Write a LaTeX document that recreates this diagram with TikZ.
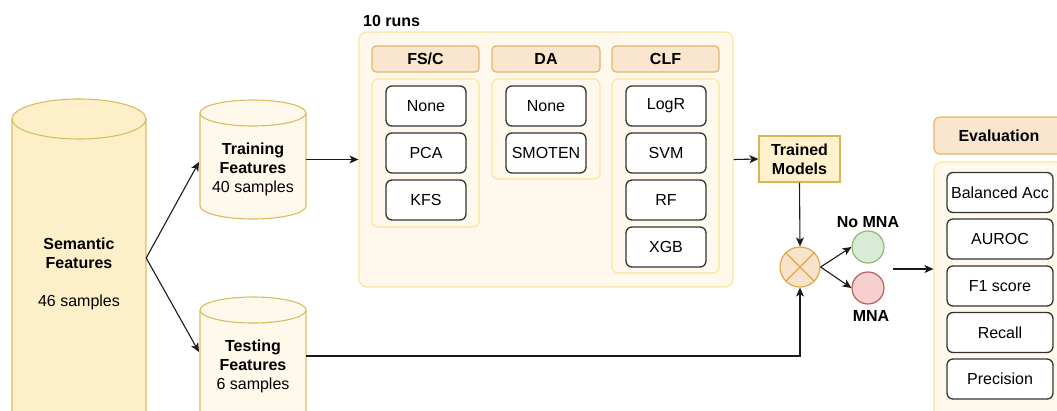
\documentclass[tikz,border=0pt]{standalone}
\usepackage{fontspec}
\setmainfont{Liberation Sans}
\usetikzlibrary{arrows.meta}

\definecolor{semfill}{HTML}{FDF0C8}
\definecolor{cylfill}{HTML}{FEF9EA}
\definecolor{cylline}{HTML}{D9BC62}
\definecolor{runfill}{HTML}{FEF9EC}
\definecolor{runline}{HTML}{FDE49C}
\definecolor{hdrfill}{HTML}{FAE5CE}
\definecolor{hdrline}{HTML}{E5B56C}
\definecolor{optline}{HTML}{333333}
\definecolor{flowcol}{HTML}{1A1A1A}
\definecolor{tmfill}{HTML}{FFF2CC}
\definecolor{tmline}{HTML}{D6B656}
\definecolor{crossfill}{HTML}{F9E2CA}
\definecolor{crossline}{HTML}{DFA845}
\definecolor{okfill}{HTML}{D9EAD6}
\definecolor{okline}{HTML}{8CBB75}
\definecolor{badfill}{HTML}{F6D0CE}
\definecolor{badline}{HTML}{BC5F5B}

% cylinder: #1 left x, #2 right x, #3 top-ellipse centre y, #4 bottom-ellipse centre y,
% #5 ellipse y radius, #6 fill colour
\newcommand\drum[6]{%
  \pgfmathsetmacro\drumrx{(#2-#1)/2}%
  \filldraw[fill=#6, draw=cylline, line width=1.1pt]
    (#1,#4) -- (#1,#3)
    arc[start angle=180, end angle=0, x radius=\drumrx pt, y radius=#5 pt]
    -- (#2,#4)
    arc[start angle=0, end angle=-180, x radius=\drumrx pt, y radius=#5 pt] -- cycle;
  \draw[draw=cylline, line width=1.1pt] (#1,#3)
    arc[start angle=180, end angle=360, x radius=\drumrx pt, y radius=#5 pt];
}

\begin{document}
\begin{tikzpicture}[x=1pt, y=1pt,
  font=\fontsize{16}{19}\selectfont,
  txt/.style={inner sep=0pt, align=center},
  anchorbox/.style={inner sep=0pt, draw=none},
  group/.style={draw=runline, fill=runfill, line width=1.2pt, rounded corners=8pt, inner sep=0pt},
  header/.style={draw=hdrline, fill=hdrfill, line width=1.2pt, rounded corners=4pt,
    inner sep=0pt, font=\fontsize{16}{19}\selectfont\bfseries},
  option/.style={draw=optline, fill=white, line width=1.3pt, rounded corners=6pt,
    minimum width=80pt, minimum height=40pt, inner sep=0pt},
  metric/.style={option, minimum width=106pt},
  flow/.style={-{Stealth[length=9pt, width=8pt, inset=2.5pt]}, line width=1.1pt, draw=flowcol},
  outcome/.style={circle, minimum size=32pt, inner sep=0pt, line width=1.2pt},
  tag/.style={inner sep=0pt, font=\fontsize{16}{19}\selectfont\bfseries}
]
\useasboundingbox (0,0) rectangle (1057,-410);
\clip (0,0) rectangle (1057,-410);

% ---- feature stores ----
\drum{12}{146}{-119}{-445}{20}{semfill}
\drum{200}{306}{-113}{-206}{13}{cylfill}
\drum{200}{306}{-310}{-445}{13}{cylfill}

\node[anchorbox, minimum width=134pt] (sem) at (79,-258) {};
\node[txt] (semtxt) at (79,-274) {\textbf{Semantic}\\\textbf{Features}\\[19pt]46 samples};
\node[anchorbox, minimum width=106pt, minimum height=119pt] (train) at (253,-159) {};
\node[txt] (traintxt) at (253,-169) {\textbf{Training}\\\textbf{Features}\\40 samples};
\node[anchorbox, minimum width=106pt] (test) at (253,-356) {};
\node[txt] (testtxt) at (253,-366) {\textbf{Testing}\\\textbf{Features}\\6 samples};

\coordinate (trainin) at (199,-162);
\coordinate (testin) at (199,-352);
\draw[flow] (sem.east) -- (trainin);
\draw[flow] (sem.east) -- (testin);

% ---- repeated runs ----
\node[group, minimum width=374pt, minimum height=255pt] (runs) at (546,-159.5) {};
\node[tag, anchor=west] (runslbl) at (363,-21) {10 runs};

\node[header, minimum width=107pt, minimum height=26pt] (fsc) at (425.5,-59) {FS/C};
\node[header, minimum width=108pt, minimum height=26pt] (da) at (546,-59) {DA};
\node[header, minimum width=107pt, minimum height=26pt] (clf) at (665.5,-59) {CLF};

\node[group, rounded corners=6pt, minimum width=107pt, minimum height=148pt] (fscbox) at (425.5,-153) {};
\node[group, rounded corners=6pt, minimum width=108pt, minimum height=100pt] (dabox) at (546,-129) {};
\node[group, rounded corners=6pt, minimum width=107pt, minimum height=194pt] (clfbox) at (665.5,-176) {};

\node[option] (fsnone) at (426,-106) {None};
\node[option] (fspca)  at (426,-153) {PCA};
\node[option] (fskfs)  at (426,-200) {KFS};

\node[option] (danone) at (546,-106) {None};
\node[option] (dasmo)  at (546,-153) {SMOTEN};

\node[option] (logr) at (666,-106) {LogR};
\node[option] (svm)  at (666,-153) {SVM};
\node[option] (rf)   at (666,-200) {RF};
\node[option] (xgb)  at (666,-247) {XGB};

\draw[flow] (train.east |- runs.west) -- (runs.west);

% ---- trained models and prediction ----
\node[draw=tmline, fill=tmfill, line width=1.2pt, minimum width=81pt, minimum height=46pt,
  inner sep=0pt, align=center, font=\fontsize{16}{19}\selectfont\bfseries] (tm) at (799.5,-159) {Trained\\Models};
\draw[flow] (runs.east) -- (tm.west);

\node[circle, draw=crossline, fill=crossfill, line width=1.2pt, minimum size=40pt, inner sep=0pt] (cross) at (800,-267) {};
\draw[crossline, line width=1.2pt] (cross.45) -- (cross.225) (cross.135) -- (cross.-45);

\draw[flow] (tm.south) -- (cross.north);
\draw[flow] (test.east) -| (cross.south);

\node[outcome, draw=okline, fill=okfill] (nomna) at (868,-247) {};
\node[outcome, draw=badline, fill=badfill] (mna) at (868,-288) {};
\node[tag] (nomnalbl) at (868,-222) {No MNA};
\node[tag] (mnalbl) at (871,-316) {MNA};

\draw[flow] (cross.east) -- (nomna.west);
\draw[flow] (cross.east) -- (mna.west);

% ---- evaluation ----
\node[header, rounded corners=6pt, minimum width=130pt, minimum height=37pt] (evalhdr) at (999,-135.5) {Evaluation};
\node[group, rounded corners=8pt, minimum width=130pt, minimum height=268pt] (evalbox) at (999,-296) {};

\node[metric] (bacc) at (1000,-192.5) {Balanced Acc};
\node[metric] (auroc) at (1000,-239) {AUROC};
\node[metric] (fone) at (1000,-286) {F1 score};
\node[metric] (recall) at (1000,-332.5) {Recall};
\node[metric] (prec) at (1000,-379) {Precision};

\coordinate (outstart) at (893,-269);
\draw[flow] (outstart) -- (outstart -| evalbox.west);
\end{tikzpicture}
\end{document}
